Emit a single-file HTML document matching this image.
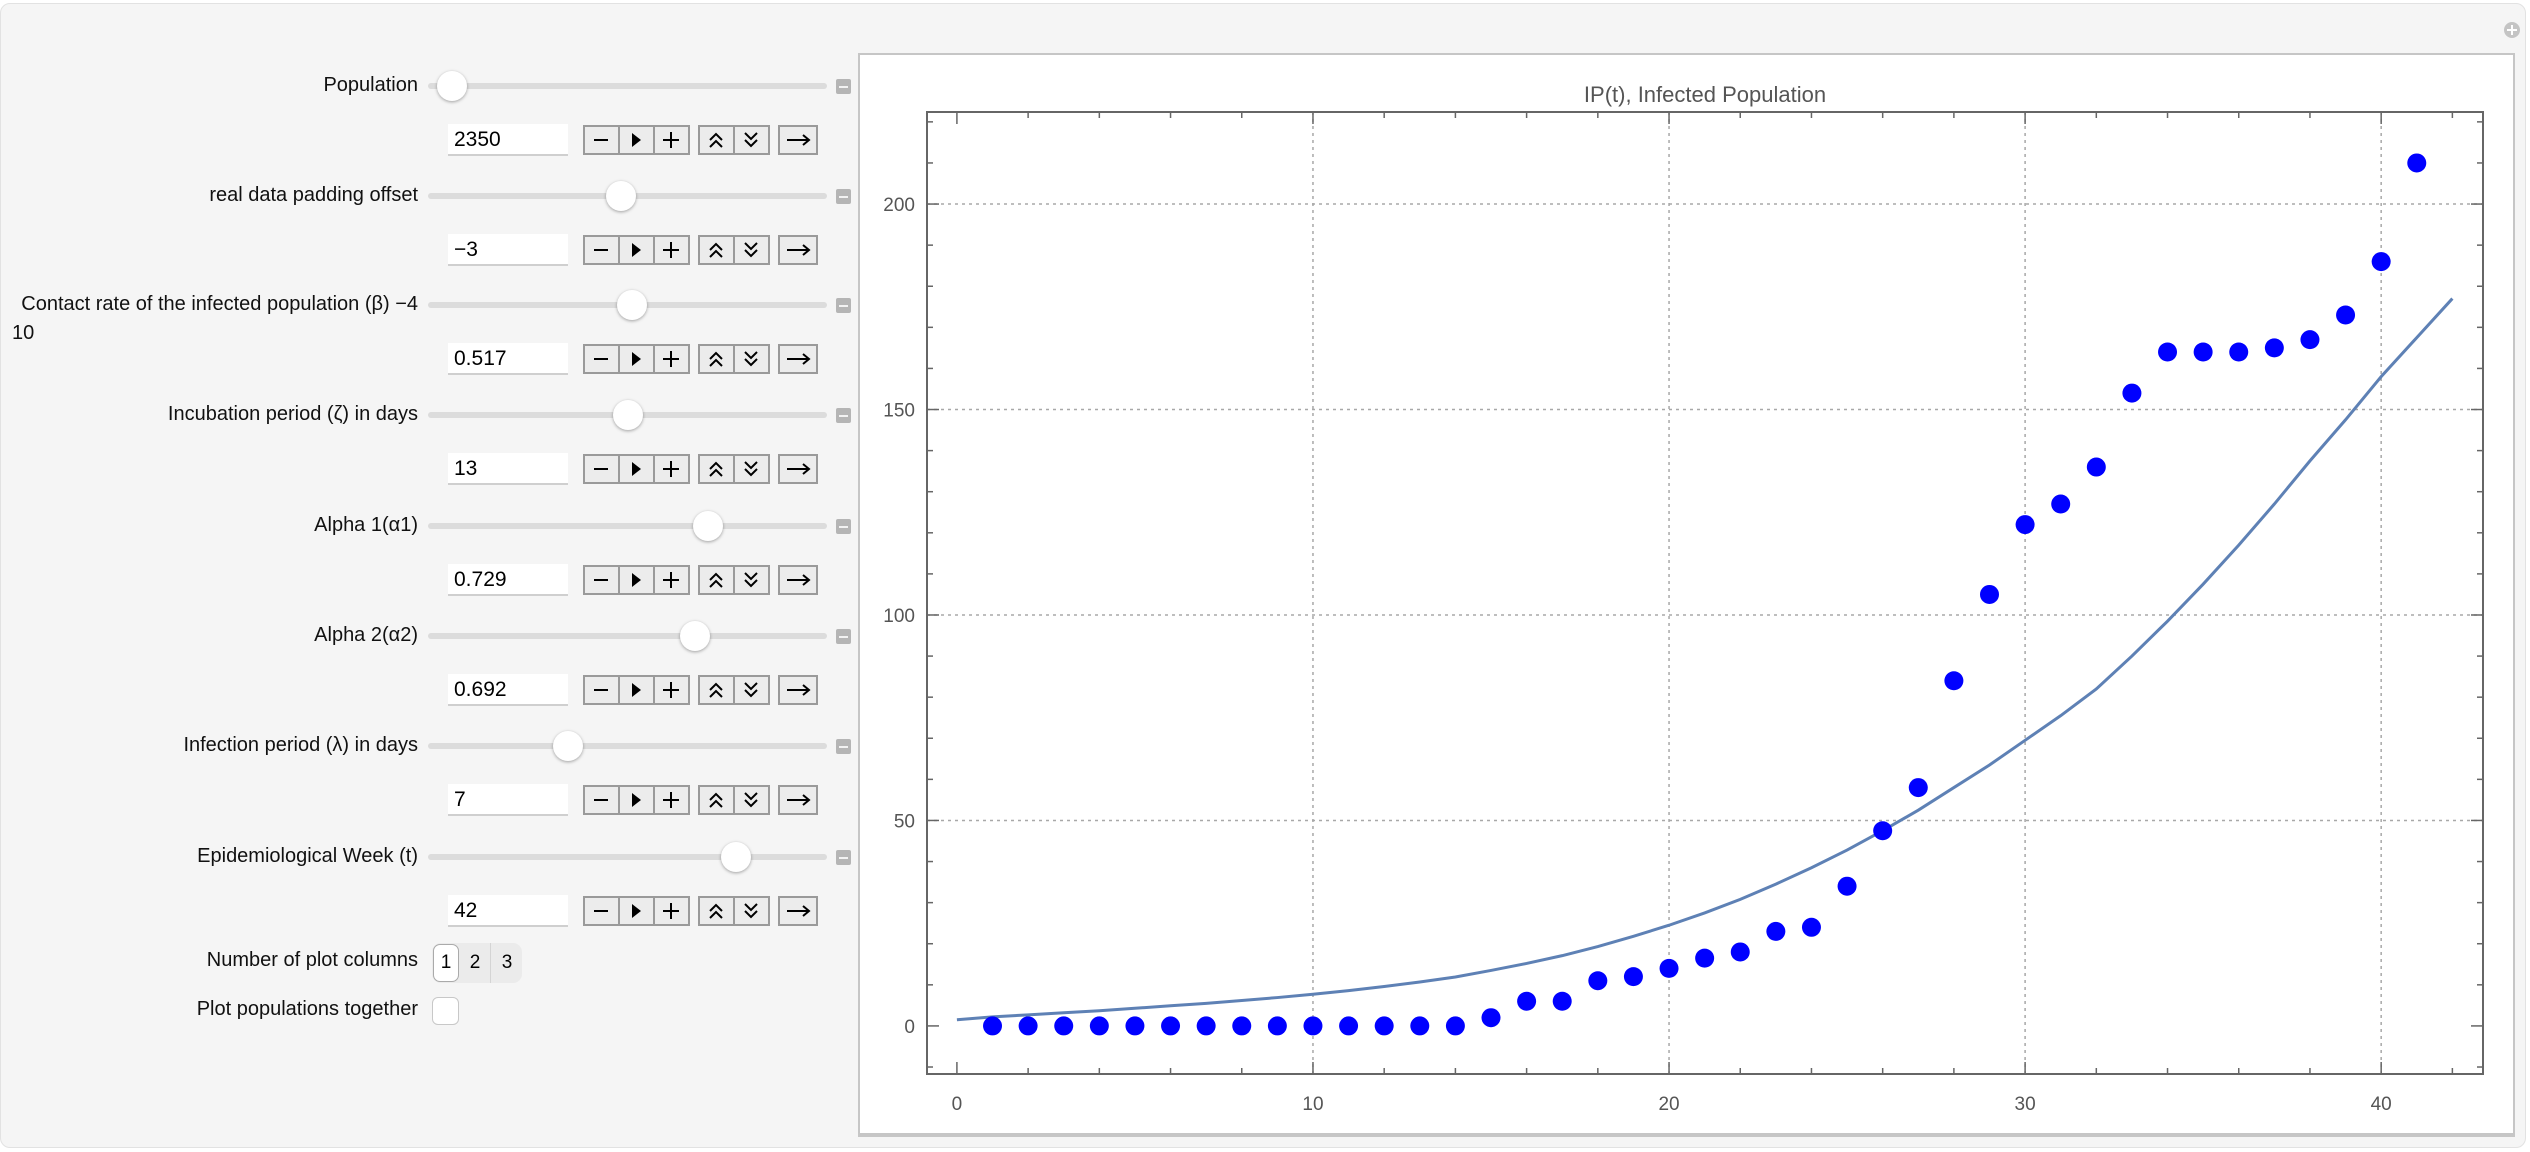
<!DOCTYPE html>
<html><head><meta charset="utf-8">
<style>
html,body{margin:0;padding:0;width:2530px;height:1152px;overflow:hidden;background:#fff;font-family:"Liberation Sans",sans-serif;}
#outer{position:absolute;left:0;top:3px;width:2526px;height:1145px;background:#f5f5f5;border:1px solid #e2e2e2;border-radius:10px;box-sizing:border-box;}
.lbl{position:absolute;font-size:20px;color:#111;text-align:right;white-space:nowrap;}
.track{position:absolute;height:6px;background:#dcdcdc;border-radius:3px;}
.knob{position:absolute;width:30px;height:30px;border-radius:50%;background:#fff;box-shadow:0 1px 3px rgba(0,0,0,0.35);}
.minus{position:absolute;width:15px;height:15px;background:#b5b5b5;border-radius:2px;}
.minus:after{content:"";position:absolute;left:3px;right:3px;top:7px;height:2px;background:#f2f2f2;}
.inp{position:absolute;width:120px;height:32px;background:#fff;border-bottom:2px solid #cfcfcf;box-sizing:border-box;font-size:21px;line-height:32px;padding-left:6px;color:#000;}
.btn{position:absolute;height:30px;background:#ececec;border:2px solid #9a9a9a;box-sizing:border-box;}
.btn svg{position:absolute;left:0;top:0;}
</style></head><body>
<div id="outer"></div>
<svg style="position:absolute;left:2502px;top:20px" width="20" height="20"><circle cx="10" cy="10" r="8" fill="#c4c4c4"/><path d="M10 5v10M5 10h10" stroke="#fff" stroke-width="2"/></svg>
<div id="controls"></div>

<div class="lbl" style="right:2112px;top:949px">Number of plot columns</div>
<div style="position:absolute;left:432px;top:943px;width:90px;height:40px;background:#ebebeb;border-radius:9px;">
 <div style="position:absolute;left:1px;top:1px;width:24px;height:36px;background:#fff;border:1px solid #aaa;border-radius:7px;font-size:19px;text-align:center;line-height:36px;">1</div>
 <div style="position:absolute;left:28px;top:0;width:30px;height:40px;font-size:19px;text-align:center;line-height:40px;border-right:1px solid #d4d4d4">2</div>
 <div style="position:absolute;left:60px;top:0;width:30px;height:40px;font-size:19px;text-align:center;line-height:40px;">3</div>
</div>
<div class="lbl" style="right:2112px;top:998px">Plot populations together</div>
<div style="position:absolute;left:432px;top:997px;width:27px;height:28px;background:#fff;border:1px solid #c8c8c8;border-radius:6px;box-sizing:border-box"></div>

<div style="position:absolute;left:858px;top:53px;width:1657px;height:1084px;background:#fff;border:2px solid #c6c6c6;border-bottom:4px solid #c6c6c6;box-sizing:border-box"></div>
<svg id="chart" style="position:absolute;left:0;top:0" width="2530" height="1152"></svg>

<script>
const ctrlLabels = ["Population","real data padding offset","Contact rate of the infected population (\u03B2)  \u22124","Incubation period (\u03B6) in days","Alpha 1(\u03B11)","Alpha 2(\u03B12)","Infection period (\u03BB) in days","Epidemiological Week (t)"];
const ctrlValues = ["2350","\u22123","0.517","13","0.729","0.692","7","42"];
const knobX = [452,621,632,628,708,695,568,736];
const rowY = [86,196,305,415,526,636,746,857];
const names = ["population","padding-offset","contact-rate","incubation-period","alpha-1","alpha-2","infection-period","epi-week"];
const ctr = document.getElementById('controls');
function mk(cls, style, name, inter, html){
  const d=document.createElement('div'); d.className=cls; d.style.cssText=style;
  
  
  if(html) d.innerHTML=html; ctr.appendChild(d); return d;
}
const icons = {
 dec:'<svg width="32" height="26"><path d="M9 13h14" stroke="#000" stroke-width="2"/></svg>',
 play:'<svg width="32" height="26"><path d="M12 6l9 7-9 7z" fill="#000"/></svg>',
 inc:'<svg width="32" height="26"><path d="M8 13h16M16 5v16" stroke="#000" stroke-width="2"/></svg>',
 faster:'<svg width="32" height="26"><path d="M10 13l6-6 6 6M10 20l6-6 6 6" stroke="#000" stroke-width="2" fill="none"/></svg>',
 slower:'<svg width="32" height="26"><path d="M10 6l6 6 6-6M10 13l6 6 6-6" stroke="#000" stroke-width="2" fill="none"/></svg>',
 dir:'<svg width="38" height="26"><path d="M7 13h22M23 8l6 5-6 5" stroke="#000" stroke-width="2" fill="none"/></svg>'
};
for(let i=0;i<8;i++){
  const y=rowY[i], n=names[i];
  mk('lbl','right:2112px;top:'+(y-12)+'px',n+'-label','false',ctrlLabels[i]);
  mk('track','left:428px;width:399px;top:'+(y-3)+'px',n+'-slider-track','true');
  mk('knob','left:'+(knobX[i]-15)+'px;top:'+(y-15)+'px',n+'-slider-knob','true');
  mk('minus','left:836px;top:'+(y-7)+'px',n+'-toggle-button','true');
  const iy=y+54;
  mk('inp','left:448px;top:'+(iy-16)+'px',n+'-input','true',ctrlValues[i]);
  mk('btn','left:583px;width:37px;top:'+(iy-15)+'px',n+'-decrement-button','true',icons.dec);
  mk('btn','left:618px;width:37px;top:'+(iy-15)+'px',n+'-play-button','true',icons.play);
  mk('btn','left:653px;width:37px;top:'+(iy-15)+'px',n+'-increment-button','true',icons.inc);
  mk('btn','left:698px;width:37px;top:'+(iy-15)+'px',n+'-faster-button','true',icons.faster);
  mk('btn','left:733px;width:37px;top:'+(iy-15)+'px',n+'-slower-button','true',icons.slower);
  mk('btn','left:778px;width:40px;top:'+(iy-15)+'px',n+'-direction-button','true',icons.dir);
}
const ten = document.createElement('div'); ten.className='lbl'; ten.style.cssText='left:12px;top:322px;text-align:left';


ten.textContent='10'; ctr.appendChild(ten);
</script>

<script>
const weeks = [1,2,3,4,5,6,7,8,9,10,11,12,13,14,15,16,17,18,19,20,21,22,23,24,25,26,27,28,29,30,31,32,33,34,35,36,37,38,39,40,41];
const realData = [0,0,0,0,0,0,0,0,0,0,0,0,0,0,2,6,6,11,12,14,16.5,18,23,24,34,47.5,58,84,105,122,127,136,154,164,164,164,165,167,173,186,210];
const modelT = [0,1,2,3,4,5,6,7,8,9,10,11,12,13,14,15,16,17,18,19,20,21,22,23,24,25,26,27,28,29,30,31,32,33,34,35,36,37,38,39,40,41,42];
const modelIP = [1.5,2.2,2.7,3.2,3.7,4.3,4.9,5.5,6.2,6.9,7.7,8.6,9.6,10.7,11.9,13.5,15.2,17.1,19.3,21.8,24.5,27.5,30.8,34.5,38.5,42.8,47.5,52.5,58,63.5,69.5,75.5,82,90,98.5,107.5,117,127,137.5,147.5,158,167.5,177];
const xTicks = [0,10,20,30,40];
const yTicks = [0,50,100,150,200];
const chartTitle = "IP(t), Infected Population";

const L=927, R=2483, T=112, B=1074;
const X0=-0.84, X1=42.86, Y0=-11.7, Y1=222.4;
const sx = v => L + (v-X0)/(X1-X0)*(R-L);
const sy = v => B - (v-Y0)/(Y1-Y0)*(B-T);
const svg = document.getElementById('chart');
const NS='http://www.w3.org/2000/svg';
function el(tag, attrs, name, parent){
  const e=document.createElementNS(NS,tag);
  for(const k in attrs) e.setAttribute(k,attrs[k]);
  
  
  (parent||svg).appendChild(e); return e;
}
xTicks.forEach(t=>{ if(t>0) el('line',{x1:sx(t),x2:sx(t),y1:T,y2:B,stroke:'#a8a8a8','stroke-width':1.5,'stroke-dasharray':'3,4'},'x-gridline'); });
yTicks.forEach(t=>{ if(t>0) el('line',{x1:L,x2:R,y1:sy(t),y2:sy(t),stroke:'#a8a8a8','stroke-width':1.5,'stroke-dasharray':'3,4'},'y-gridline'); });
el('rect',{x:L,y:T,width:R-L,height:B-T,fill:'none',stroke:'#666','stroke-width':2},'plot-area-frame');
for(let t=0;t<=42;t+=2){
  const major = t%10===0, len = major?12:6;
  el('line',{x1:sx(t),x2:sx(t),y1:B,y2:B-len,stroke:'#666','stroke-width':1.5},'x-tick');
  el('line',{x1:sx(t),x2:sx(t),y1:T,y2:T+len,stroke:'#666','stroke-width':1.5},'x-tick-top');
}
for(let t=-10;t<=220;t+=10){
  const major = t%50===0, len = major?12:6;
  el('line',{x1:L,x2:L+len,y1:sy(t),y2:sy(t),stroke:'#666','stroke-width':1.5},'y-tick');
  el('line',{x1:R,x2:R-len,y1:sy(t),y2:sy(t),stroke:'#666','stroke-width':1.5},'y-tick-right');
}
xTicks.forEach(t=>{ const e=el('text',{x:sx(t),y:B+36,'text-anchor':'middle','font-size':19,fill:'#555','font-family':'Liberation Sans, sans-serif'},'x-tick-label'); e.textContent=t; });
yTicks.forEach(t=>{ const e=el('text',{x:L-12,y:sy(t)+7,'text-anchor':'end','font-size':19,fill:'#555','font-family':'Liberation Sans, sans-serif'},'y-tick-label'); e.textContent=t; });
const tt=el('text',{x:(L+R)/2,y:102,'text-anchor':'middle','font-size':22,fill:'#555','font-family':'Liberation Sans, sans-serif'},'chart-title'); tt.textContent=chartTitle;
el('polyline',{points:modelT.map((t,i)=>sx(t)+','+sy(modelIP[i])).join(' '),fill:'none',stroke:'#5e81b5','stroke-width':3},'model-ip-line');
weeks.forEach((w,i)=>{ el('circle',{cx:sx(w),cy:sy(realData[i]),r:9.5,fill:'#0000ff'},'real-data-point'); });
</script>
</body></html>
